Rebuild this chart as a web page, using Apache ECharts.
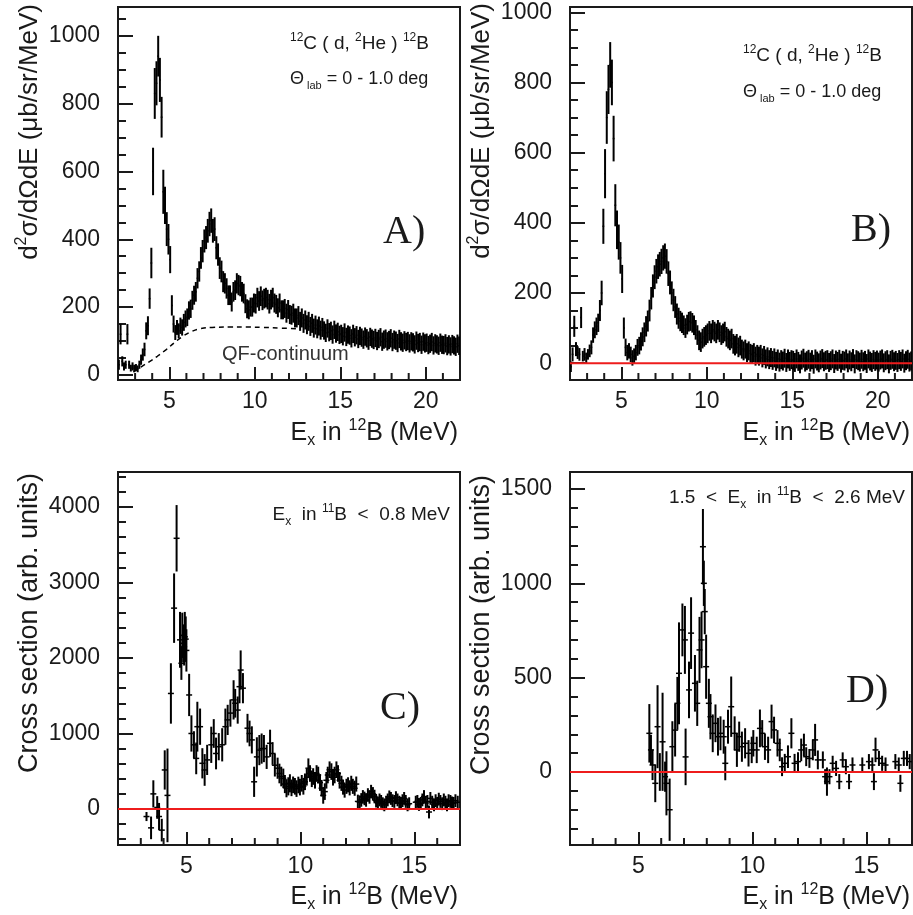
<!DOCTYPE html>
<html>
<head>
<meta charset="utf-8">
<title>12C(d,2He)12B spectra</title>
<script src="https://cdn.jsdelivr.net/npm/echarts@6/dist/echarts.min.js"></script>
<style>
  html, body { margin: 0; padding: 0; background: #fff; }
  #chart { width: 913px; height: 915px; }
</style>
</head>
<body>
<div id="chart"></div>
<script>
// bins of the two upper spectra (MeV)
const binStart = 2.05;
const binStep = 0.1;

// A) raw spectrum, ub/sr/MeV
const aCounts = [
  30, 120, 40, 25, 30, 120, 30, 20, 25, 20,
  22, 18, 30, 45, 60, 75, 130, 145, 225, 330,
  600, 830, 860, 940, 870, 760, 540, 500, 430, 400,
  340, 205, 150, 125, 140, 130, 145, 140, 155, 165,
  170, 190, 195, 220, 235, 245, 285, 305, 345, 365,
  395, 405, 425, 445, 455, 425, 430, 375, 355, 315,
  305, 275, 270, 255, 235, 235, 215, 245, 250, 270,
  265, 262, 245, 240, 210, 195, 192, 200, 200, 212,
  210, 228, 218, 232, 220, 225, 228, 222, 210, 222,
  228, 212, 208, 198, 212, 192, 192, 196, 182, 193,
  178, 176, 182, 168, 168, 175, 158, 168, 152, 162,
  148, 158, 143, 152, 138, 147, 136, 144, 132, 140,
  131, 124, 137, 126, 130, 119, 133, 122, 127, 118,
  121, 114, 125, 112, 119, 116, 108, 121, 111, 117,
  106, 115, 110, 104, 113, 108, 101, 112, 107, 103,
  109, 100, 106, 111, 98, 104, 107, 99, 103, 108,
  97, 104, 101, 94, 106, 99, 95, 102, 97, 100,
  93, 99, 96, 90, 101, 94, 97, 89, 98, 93,
  95, 88, 92, 97, 87, 93, 90, 86, 95, 89,
  88, 93, 85, 90, 84, 91, 87, 83, 92, 86
];
const aErrors = [
  15, 30, 15, 12, 12, 30, 12, 10, 12, 10,
  10, 10, 12, 15, 18, 20, 25, 28, 30, 45,
  70, 75, 65, 60, 65, 60, 65, 55, 50, 45,
  40, 30, 25, 22, 22, 22, 24, 24, 25, 25,
  26, 27, 27, 28, 28, 29, 30, 30, 32, 33,
  34, 34, 35, 36, 36, 35, 35, 34, 33, 32,
  32, 31, 30, 30, 29, 29, 28, 29, 29, 30,
  30, 30, 29, 29, 28, 28, 28, 28, 28, 28,
  29, 29, 29, 29, 29, 29, 29, 29, 29, 29,
  29, 28, 28, 28, 28, 28, 28, 28, 28, 28,
  28, 28, 28, 28, 28, 28, 28, 28, 28, 28,
  28, 28, 28, 28, 28, 28, 28, 28, 28, 28,
  27, 27, 27, 27, 27, 27, 27, 27, 27, 27,
  27, 27, 27, 27, 27, 27, 27, 27, 27, 27,
  27, 27, 27, 27, 27, 27, 27, 27, 27, 27,
  27, 27, 27, 27, 27, 27, 27, 27, 27, 27,
  27, 27, 27, 27, 27, 27, 27, 27, 27, 27,
  27, 27, 27, 27, 27, 27, 27, 27, 27, 27,
  27, 27, 27, 27, 27, 27, 27, 27, 27, 27,
  27, 27, 27, 27, 27, 27, 27, 27, 27, 27
];
// quasi-free continuum (dashed)
const qfX = [2.9, 3.3, 3.8, 4.3, 4.8, 5.3, 5.8, 6.3, 6.8, 7.5, 8.5, 9.5, 10.5, 11.5, 12.5];
const qfY = [8, 22, 38, 55, 74, 95, 114, 128, 136, 140, 141, 141, 140, 138, 136];

// B) background subtracted
const bCounts = [
  -10, 25, 105, 40, 30, 25, 130, 20, 25, 15,
  25, 35, 45, 80, 95, 105, 115, 150, 200, 390,
  540, 700, 780, 850, 800, 640, 450, 380, 345, 300,
  240, 100, 45, 30, 35, 25, 15, 20, 30, 45,
  50, 62, 75, 88, 105, 120, 150, 185, 220, 245,
  262, 275, 282, 290, 300, 305, 290, 255, 230, 200,
  180, 160, 140, 128, 120, 115, 108, 100, 110, 118,
  120, 115, 108, 95, 80, 65, 60, 70, 75, 80,
  85, 92, 85, 95, 90, 85, 95, 88, 80, 85,
  90, 75, 70, 65, 70, 55, 50, 55, 45, 50,
  40, 35, 40, 30, 35, 28, 25, 30, 20, 25,
  20, 25, 15, 22, 12, 18, 10, 16, 8, 15,
  5, 12, 3, 10, 6, 14, 2, 12, 5, 10,
  8, 2, 12, 5, -2, 9, 14, 3, 7, 11,
  3, 10, -3, 12, 6, 1, 9, 13, 4, 8,
  10, 2, 7, 12, -1, 9, 5, 11, 0, 8,
  6, 12, 1, 9, 4, 13, -2, 10, 7, 3,
  11, 4, 8, -1, 12, 6, 2, 10, 5, 9,
  3, 9, 12, 1, 7, 10, -2, 8, 11, 4,
  8, 2, 10, 5, 12, 0, 7, 11, 3, 6
];
const bErrors = [
  15, 20, 30, 20, 18, 18, 30, 15, 18, 15,
  15, 18, 20, 22, 24, 25, 26, 30, 35, 50,
  70, 75, 70, 65, 65, 65, 60, 55, 50, 45,
  40, 30, 25, 22, 22, 22, 22, 22, 22, 24,
  25, 26, 27, 28, 29, 30, 31, 32, 33, 34,
  35, 35, 35, 36, 36, 36, 35, 35, 34, 33,
  32, 31, 30, 30, 29, 29, 28, 28, 28, 28,
  28, 28, 28, 28, 28, 28, 28, 28, 28, 28,
  28, 28, 28, 28, 28, 28, 28, 28, 28, 28,
  28, 28, 28, 28, 28, 28, 28, 28, 28, 28,
  27, 27, 27, 27, 27, 27, 27, 27, 27, 27,
  27, 27, 27, 27, 27, 27, 27, 27, 27, 27,
  27, 27, 27, 27, 27, 27, 27, 27, 27, 27,
  27, 27, 27, 27, 27, 27, 27, 27, 27, 27,
  27, 27, 27, 27, 27, 27, 27, 27, 27, 27,
  27, 27, 27, 27, 27, 27, 27, 27, 27, 27,
  27, 27, 27, 27, 27, 27, 27, 27, 27, 27,
  27, 27, 27, 27, 27, 27, 27, 27, 27, 27,
  27, 27, 27, 27, 27, 27, 27, 27, 27, 27,
  27, 27, 27, 27, 27, 27, 27, 27, 27, 27
];

// C) coincidence, Ex(11B) < 0.8 MeV
const cX = [
  3.25, 3.45, 3.55, 3.72, 3.8, 3.92, 4.05, 4.17, 4.32, 4.46,
  4.57, 4.72, 4.78, 4.82, 4.86, 4.9, 4.93, 4.97, 5.0, 5.12,
  5.22, 5.33, 5.43, 5.48, 5.6, 5.7, 5.8, 5.91, 6.09, 6.2,
  6.3, 6.42, 6.57, 6.71, 6.81, 6.93, 7.07, 7.14, 7.25, 7.33,
  7.38, 7.48, 7.68, 7.77, 7.87, 7.97, 8.09, 8.2, 8.3, 8.4,
  8.52, 8.67, 8.78, 8.88, 9.0, 9.08, 9.16, 9.25, 9.32, 9.39,
  9.47, 9.54, 9.61, 9.68, 9.76, 9.83, 9.91, 9.98, 10.06, 10.13,
  10.2, 10.28, 10.35, 10.42, 10.5, 10.56, 10.64, 10.71, 10.78, 10.86,
  10.93, 11.0, 11.07, 11.14, 11.2, 11.28, 11.36, 11.43, 11.5, 11.58,
  11.65, 11.72, 11.8, 11.87, 11.94, 12.02, 12.09, 12.16, 12.23, 12.3,
  12.38, 12.45, 12.52, 12.6, 12.67, 12.74, 12.81, 12.88, 12.96, 13.03,
  13.1, 13.18, 13.25, 13.32, 13.4, 13.47, 13.54, 13.61, 13.68, 13.76,
  13.83, 13.9, 13.97, 14.04, 14.12, 14.19, 14.26, 14.34, 14.41, 14.48,
  14.55, 14.62, 14.7, 14.77, 15.06, 15.13, 15.2, 15.28, 15.35, 15.42,
  15.5, 15.57, 15.64, 15.7, 15.78, 15.86, 15.93, 16.0, 16.07, 16.14,
  16.22, 16.29, 16.36, 16.43, 16.5, 16.58, 16.65, 16.72, 16.8, 16.9
];
const cY = [
  -100, -250, 200, 20, -100, -280, 517, 180, 1530, 2660,
  3585, 2240, 1930, 2300, 2195, 2150, 2280, 2250, 2100, 1510,
  1000, 850, 670, 1090, 1090, 605, 517, 650, 850, 1000,
  735, 825, 850, 1090, 1180, 1270, 1445, 1400, 1310, 1620,
  1840, 1600, 1070, 1000, 915, 360, 690, 780, 800, 800,
  690, 870, 735, 580, 540, 470, 430, 405, 330, 275,
  300, 340, 280, 320, 300, 270, 318, 290, 340, 300,
  360, 420, 540, 470, 400, 430, 380, 470, 450, 350,
  275, 180, 230, 380, 450, 520, 495, 420, 450, 520,
  470, 380, 340, 290, 250, 300, 320, 280, 340, 300,
  275, 330, 100, 90, 120, 160, 140, 120, 185, 160,
  230, 200, 165, 110, 80, 120, 100, 70, 55, 90,
  120, 160, 140, 110, 100, 150, 120, 90, 75, 110,
  140, 100, 55, 70, 90, 100, 60, 75, 120, 165,
  80, 100, -40, 140, 90, 55, 110, 75, 130, 100,
  70, 120, 90, 55, 110, 100, 80, 75, 110, 90
];
const cErr = [
  60, 150, 180, 150, 180, 150, 260, 620, 400, 460,
  440, 370, 220, 300, 250, 250, 330, 300, 280, 280,
  240, 180, 210, 330, 240, 200, 210, 200, 240, 190,
  210, 180, 220, 240, 200, 180, 260, 190, 180, 220,
  260, 200, 190, 170, 180, 200, 260, 200, 200, 180,
  160, 180, 150, 150, 140, 130, 130, 130, 120, 120,
  120, 120, 110, 110, 110, 110, 110, 110, 110, 110,
  110, 110, 130, 110, 110, 110, 110, 110, 110, 110,
  110, 110, 110, 110, 110, 110, 110, 110, 110, 110,
  110, 110, 100, 100, 100, 100, 100, 100, 100, 100,
  100, 100, 90, 90, 90, 90, 90, 90, 90, 90,
  90, 90, 90, 90, 85, 85, 85, 85, 85, 85,
  85, 85, 85, 85, 85, 85, 85, 85, 85, 85,
  85, 85, 85, 85, 85, 85, 85, 85, 85, 85,
  85, 85, 85, 85, 85, 85, 85, 85, 85, 85,
  85, 85, 85, 85, 85, 85, 85, 85, 85, 85
];

// D) coincidence, 1.5 < Ex(11B) < 2.6 MeV
const dX = [
  5.48, 5.55, 5.62, 5.74, 5.84, 5.94, 6.06, 6.17, 6.23, 6.37,
  6.49, 6.61, 6.71, 6.78, 6.93, 7.04, 7.07, 7.22, 7.31, 7.48,
  7.58, 7.68, 7.77, 7.83, 7.87, 7.91, 7.97, 8.09, 8.16, 8.26,
  8.38, 8.49, 8.6, 8.74, 8.81, 8.93, 9.07, 9.22, 9.32, 9.42,
  9.54, 9.68, 9.83, 9.97, 10.04, 10.19, 10.33, 10.43, 10.55, 10.69,
  10.84, 10.95, 11.1, 11.2, 11.3, 11.42, 11.56, 11.71, 11.85, 12.0,
  12.14, 12.26, 12.36, 12.5, 12.65, 12.75, 12.87, 13.09, 13.19, 13.27,
  13.38, 13.52, 13.67, 13.81, 13.96, 14.1, 14.24, 14.39, 14.82, 15.11,
  15.26, 15.33, 15.4, 15.55, 15.69, 15.84, 16.27, 16.42, 16.49, 16.64,
  16.78, 16.9
];
const dY = [
  205, 117, 37, -60, 240, 0, 160, -25, -60, -200,
  134, 222, 364, 523, 753, 700, 80, 435, 736, 470,
  364, 647, 700, 1194, 1000, 850, 558, 364, 293, 205,
  258, 187, 205, 187, 46, 240, 346, 205, 117, 187,
  134, 152, 99, 117, 152, 117, 231, 205, 134, 117,
  267, 223, 152, 117, 28, 46, 81, 205, 46, 55,
  117, 143, 81, 72, 117, 170, 64, 64, -25, -51,
  -25, 46, 19, -51, 64, 28, -51, 37, 37, 55,
  37, -51, 117, 72, 46, 37, 55, 37, -60, 72,
  72, 55
];
const dErr = [
  155, 80, 80, 100, 220, 100, 260, 80, 170, 165,
  135, 140, 140, 270, 140, 180, 150, 150, 190, 150,
  120, 175, 150, 200, 120, 120, 170, 130, 120, 100,
  100, 100, 90, 90, 90, 90, 160, 90, 90, 80,
  80, 80, 70, 70, 70, 70, 100, 70, 70, 70,
  90, 70, 70, 60, 50, 50, 60, 80, 50, 50,
  60, 60, 50, 50, 55, 85, 50, 45, 40, 75,
  40, 40, 40, 40, 40, 40, 40, 40, 40, 40,
  40, 45, 65, 40, 40, 40, 40, 40, 45, 40,
  40, 40
];

// tick values
const ticksX22 = [5, 10, 15, 20];
const minorX22 = [3, 4, 6, 7, 8, 9, 11, 12, 13, 14, 16, 17, 18, 19, 21];
const ticksX17 = [5, 10, 15];
const minorX17 = [3, 4, 6, 7, 8, 9, 11, 12, 13, 14, 16];
const ticksYab = [0, 200, 400, 600, 800, 1000];
const minorYab = [0, 50, 100, 150, 200, 250, 300, 350, 400, 450, 500, 550, 600, 650, 700, 750, 800, 850, 900, 950, 1000, 1050];
const ticksYc = [0, 1000, 2000, 3000, 4000];
const minorYc = [-400, -200, 0, 200, 400, 600, 800, 1000, 1200, 1400, 1600, 1800, 2000, 2200, 2400, 2600, 2800, 3000, 3200, 3400, 3600, 3800, 4000, 4200, 4400];
const ticksYd = [0, 500, 1000, 1500];
const minorYd = [-300, -200, -100, 0, 100, 200, 300, 400, 500, 600, 700, 800, 900, 1000, 1100, 1200, 1300, 1400, 1500];

const SANS = '"Liberation Sans", Arial, Helvetica, sans-serif';
const SERIF = '"Liberation Serif", "Times New Roman", serif';
const INK = '#1a1a1a';

const panels = [
  { grid: { left: 118, top: 7, width: 342, height: 373 }, xr: [2, 22], yr: [-15, 1085], xt: ticksX22, xm: minorX22, yt: ticksYab, ym: minorYab },
  { grid: { left: 570, top: 7, width: 342, height: 373 }, xr: [2, 22], yr: [-48, 1015], xt: ticksX22, xm: minorX22, yt: ticksYab, ym: minorYab },
  { grid: { left: 118, top: 472, width: 342, height: 373 }, xr: [2, 17], yr: [-477, 4463], xt: ticksX17, xm: minorX17, yt: ticksYc, ym: minorYc },
  { grid: { left: 570, top: 472, width: 342, height: 373 }, xr: [2, 17], yr: [-387, 1590], xt: ticksX17, xm: minorX17, yt: ticksYd, ym: minorYd }
];

const labelStyle = { fontFamily: SANS, fontSize: 23, color: INK };

// x: one axis with major ticks + labels (minor x ticks are added as graphic lines after layout)
function xAxisOf(p, i) {
  return {
    type: 'value', gridIndex: i, min: p.xr[0], max: p.xr[1], position: 'bottom',
    splitLine: { show: false },
    axisLine: { show: true, onZero: false, lineStyle: { color: INK, width: 2 } },
    axisTick: { show: true, inside: true, length: 13, customValues: p.xt, lineStyle: { color: INK, width: 2 } },
    axisLabel: Object.assign({ show: true, customValues: p.xt, margin: 10, formatter: v => String(v) }, labelStyle)
  };
}
// y: first axis short ticks + labels, second axis long major ticks
function yAxesOf(p, i) {
  const base = { type: 'value', gridIndex: i, min: p.yr[0], max: p.yr[1], position: 'left', splitLine: { show: false } };
  return [
    Object.assign({}, base, {
      axisLine: { show: true, onZero: false, lineStyle: { color: INK, width: 2 } },
      axisTick: { show: true, inside: true, length: 8, customValues: p.ym, lineStyle: { color: INK, width: 2 } },
      axisLabel: Object.assign({ show: true, customValues: p.yt, margin: 18, formatter: v => String(v) }, labelStyle)
    }),
    Object.assign({}, base, {
      axisLine: { show: false, onZero: false },
      axisTick: { show: true, inside: true, length: 15, customValues: p.yt, lineStyle: { color: INK, width: 2 } },
      axisLabel: { show: false }
    })
  ];
}

// vertical error bar plus a short horizontal bar at the value
function errorBar(halfPx, binMeV) {
  return function (params, api) {
    const x = api.value(0), y = api.value(1), e = api.value(2);
    const top = api.coord([x, y + e]);
    const bot = api.coord([x, y - e]);
    const mid = api.coord([x, y]);
    const half = binMeV ? api.size([binMeV, 0])[0] / 2 : halfPx;
    return {
      type: 'group',
      children: [
        { type: 'line', shape: { x1: top[0], y1: top[1], x2: bot[0], y2: bot[1] }, style: { stroke: '#000', lineWidth: 2 } },
        { type: 'line', shape: { x1: mid[0] - half, y1: mid[1], x2: mid[0] + half, y2: mid[1] }, style: { stroke: '#000', lineWidth: 1.5 } }
      ]
    };
  };
}

const series = [];
function bars(i, data, halfPx, binMeV) {
  series.push({
    type: 'custom', xAxisIndex: i, yAxisIndex: 2 * i, clip: true, z: 3,
    renderItem: errorBar(halfPx, binMeV), data: data
  });
}
function zeroLine(i) {
  const p = panels[i];
  series.push({
    type: 'line', xAxisIndex: i, yAxisIndex: 2 * i, z: 5, showSymbol: false, silent: true,
    lineStyle: { color: '#ee1c1c', width: 2 },
    data: [[p.xr[0], 0], [p.xr[1], 0]]
  });
}

bars(0, aCounts.map((v, k) => [binStart + k * binStep, v, aErrors[k]]), 0, binStep);
series.push({
  type: 'line', xAxisIndex: 0, yAxisIndex: 0, z: 2, showSymbol: false, smooth: true,
  lineStyle: { color: '#000', width: 1.5, type: [5, 4] },
  data: qfX.map((x, k) => [x, qfY[k]])
});
bars(1, bCounts.map((v, k) => [binStart + k * binStep, v, bErrors[k]]), 0, binStep);
zeroLine(1);
bars(2, cX.map((x, k) => [x, cY[k], cErr[k]]), 3, 0);
zeroLine(2);
bars(3, dX.map((x, k) => [x, dY[k], dErr[k]]), 3, 0);
zeroLine(3);

// text helpers
function rich(size) {
  const s = Math.round(size * 0.62);
  return {
    n: { fontFamily: SANS, fontSize: size, fill: INK, lineHeight: size + 6 },
    sup: { fontFamily: SANS, fontSize: s, fill: INK, lineHeight: size + 6, verticalAlign: 'top' },
    sub: { fontFamily: SANS, fontSize: s, fill: INK, lineHeight: size + 6, verticalAlign: 'bottom' }
  };
}
function label(x, y, text, size, align, rot) {
  return {
    type: 'text', x: x, y: y, rotation: rot || 0, silent: true, z: 10,
    style: { text: text, rich: rich(size), align: align, verticalAlign: 'middle' }
  };
}
function letter(x, y, text) {
  return {
    type: 'text', x: x, y: y, silent: true, z: 10,
    style: { text: text, fontFamily: SERIF, fontSize: 40, fill: INK, align: 'left', verticalAlign: 'middle' }
  };
}

const yTitleAB = '{n|d}{sup|2}{n|σ/dΩdE (μb/sr/MeV)}';
const yTitleCD = '{n|Cross section (arb. units)}';
const xTitle = '{n|E}{sub|x}{n| in }{sup|12}{n|B (MeV)}';
const reaction = '{sup|12}{n|C ( d, }{sup|2}{n|He ) }{sup|12}{n|B}';
const angle = '{n|Θ}{sub| lab}{n| = 0 - 1.0 deg}';

const graphic = [
  label(30, 4, yTitleAB, 26, 'right', Math.PI / 2),
  label(482, 3, yTitleAB, 26, 'right', Math.PI / 2),
  label(30, 473, yTitleCD, 27, 'right', Math.PI / 2),
  label(482, 475, yTitleCD, 27, 'right', Math.PI / 2),
  label(458, 433, xTitle, 25, 'right'),
  label(910, 433, xTitle, 25, 'right'),
  label(458, 897, xTitle, 25, 'right'),
  label(910, 897, xTitle, 25, 'right'),
  label(290, 44, reaction, 19, 'left'),
  label(290, 79, angle, 18, 'left'),
  label(743, 56, reaction, 19, 'left'),
  label(743, 92, angle, 18, 'left'),
  label(450, 515, '{n|E}{sub|x}{n|  in }{sup|11}{n|B  <  0.8 MeV}', 19, 'right'),
  label(905, 498, '{n|1.5  <  E}{sub|x}{n|  in }{sup|11}{n|B  <  2.6 MeV}', 19, 'right'),
  {
    type: 'text', x: 222, y: 354, silent: true, z: 10,
    style: { text: 'QF-continuum', fontFamily: SANS, fontSize: 20, fill: '#333', align: 'left', verticalAlign: 'middle' }
  },
  letter(383, 232, 'A)'),
  letter(851, 230, 'B)'),
  letter(380, 708, 'C)'),
  letter(846, 691, 'D)')
];

const chart = echarts.init(document.getElementById('chart'), null, { renderer: 'canvas' });
chart.setOption({
  animation: false,
  backgroundColor: '#fff',
  grid: panels.map(p => Object.assign({ show: true, borderColor: INK, borderWidth: 2, backgroundColor: 'transparent' }, p.grid)),
  xAxis: panels.map((p, i) => xAxisOf(p, i)),
  yAxis: panels.flatMap((p, i) => yAxesOf(p, i)),
  series: series,
  graphic: graphic
});

// minor x ticks: positions taken from the laid-out axes
const minorTicks = [];
panels.forEach((p, i) => {
  p.xm.forEach(v => {
    const pt = chart.convertToPixel({ xAxisIndex: i, yAxisIndex: 2 * i }, [v, p.yr[0]]);
    if (pt) {
      minorTicks.push({
        type: 'line', silent: true, z: 20,
        shape: { x1: pt[0], y1: pt[1], x2: pt[0], y2: pt[1] - 7 },
        style: { stroke: INK, lineWidth: 2 }
      });
    }
  });
});
chart.setOption({ graphic: graphic.concat(minorTicks) });
window.addEventListener('resize', () => chart.resize());
</script>
</body>
</html>
